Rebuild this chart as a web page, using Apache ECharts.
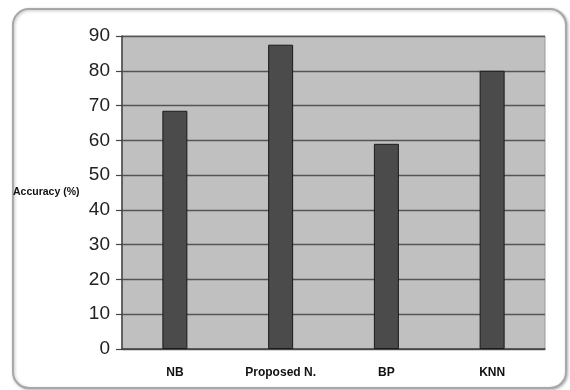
<!DOCTYPE html>
<html>
<head>
<meta charset="utf-8">
<script src="https://cdn.jsdelivr.net/npm/echarts@6/dist/echarts.min.js"></script>
<style>
  html, body { margin: 0; padding: 0; background: #ffffff; }
  #chart { width: 570px; height: 390px; }
</style>
</head>
<body>
<div id="chart"></div>
<script>
// Classifier accuracy comparison
const categories = ['NB', 'Proposed N.', 'BP', 'KNN'];
const accuracy = [68.5, 87.5, 59, 80];
const yTicks = { min: 0, max: 90, step: 10 };
const yTitle = 'Accuracy (%)';

const chart = echarts.init(document.getElementById('chart'), null, { renderer: 'canvas' });

chart.setOption({
  animation: false,
  backgroundColor: '#ffffff',
  graphic: [
    {
      type: 'rect',
      z: -10,
      shape: { x: 13, y: 9, width: 553, height: 379, r: 16 },
      style: {
        fill: '#ffffff',
        stroke: '#a8a8a8',
        lineWidth: 2,
        shadowColor: 'rgba(0,0,0,0.25)',
        shadowBlur: 3,
        shadowOffsetX: 1,
        shadowOffsetY: 1
      }
    },
    {
      type: 'text',
      left: 13,
      top: 187,
      style: {
        text: yTitle,
        font: 'bold 10.5px "Liberation Sans", Arial, sans-serif',
        fill: '#111111'
      }
    }
  ],
  grid: {
    left: 122,
    right: 25,
    top: 36,
    bottom: 41,
    show: true,
    backgroundColor: '#c0c0c0',
    borderColor: '#9a9a9a',
    borderWidth: 1
  },
  xAxis: {
    type: 'category',
    data: categories,
    axisLine: { show: true, lineStyle: { color: '#444444', width: 1.5 } },
    axisTick: { show: false },
    axisLabel: {
      margin: 18,
      color: '#111111',
      fontFamily: '"Liberation Sans Narrow", "Liberation Sans", Arial, sans-serif',
      fontWeight: 'bold',
      fontSize: 12
    }
  },
  yAxis: {
    type: 'value',
    min: yTicks.min,
    max: yTicks.max,
    interval: yTicks.step,
    axisLine: { show: true, lineStyle: { color: '#444444', width: 1.5 } },
    axisTick: { show: true, length: 6, lineStyle: { color: '#444444', width: 1.2 } },
    splitLine: { show: true, lineStyle: { color: '#555555', width: 1.3 } },
    axisLabel: {
      margin: 12,
      color: '#222222',
      fontFamily: '"Liberation Sans Narrow", "Liberation Sans", Arial, sans-serif',
      fontSize: 19
    }
  },
  series: [
    {
      type: 'bar',
      data: accuracy,
      barWidth: 25,
      itemStyle: {
        color: '#4b4b4b',
        borderColor: '#1a1a1a',
        borderWidth: 1
      }
    }
  ]
});
</script>
</body>
</html>
